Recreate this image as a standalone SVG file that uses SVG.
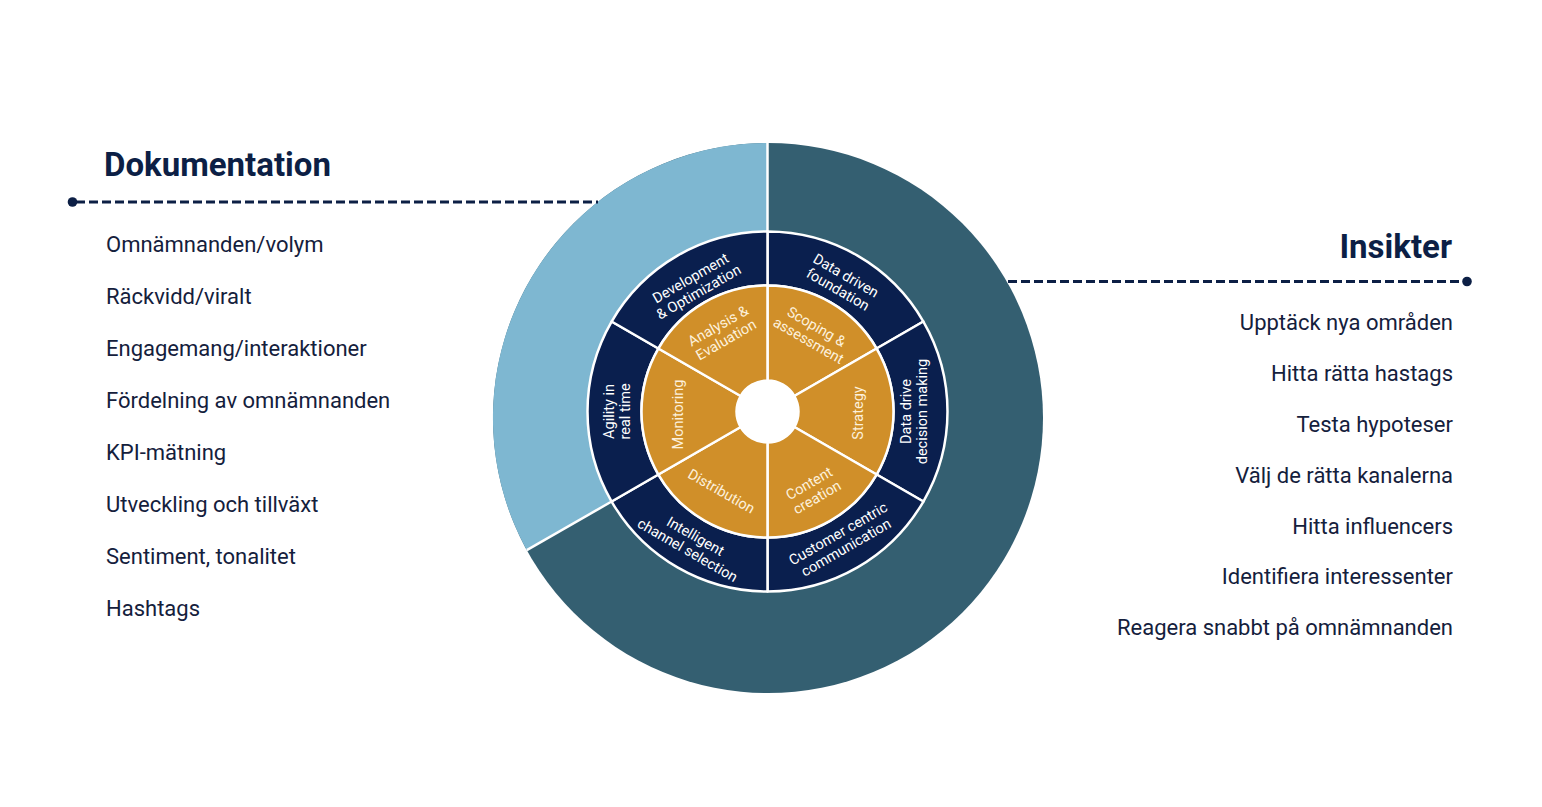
<svg xmlns="http://www.w3.org/2000/svg" width="1542" height="807" viewBox="0 0 1542 807">
<style>
.h{font-family:Roboto,"Liberation Sans",sans-serif;font-weight:700;font-size:33px;fill:#0c1f45}
.it{font-family:Roboto,"Liberation Sans",sans-serif;font-size:22px;fill:#14203c}
.r{text-anchor:end}
.nv{fill:#0a1f4e;stroke:#fff;stroke-width:2.5;stroke-linejoin:round}
.or{fill:#d08f29;stroke:#fff;stroke-width:2.5;stroke-linejoin:round}
.wt{font-family:Roboto,"Liberation Sans",sans-serif;font-size:14.5px;fill:#fff;text-anchor:middle}
.ot{font-family:Roboto,"Liberation Sans",sans-serif;font-size:14.5px;fill:#fdf1dc;text-anchor:middle}
.dash{fill:none;stroke:#0c1f45;stroke-width:3;stroke-dasharray:9 4}
.sep{stroke:#fff;stroke-width:2.5}
</style>
<rect width="1542" height="807" fill="#fff"/>

<g id="outer-ring">
<circle cx="768" cy="418" r="275" fill="#345f71"/>
<path d="M767.5 411.5 L767.5 143 A275 275 0 0 0 526.8 550.2 Z" fill="#7eb7d1"/>
<line class="sep" x1="767.5" y1="143" x2="767.5" y2="232"/>
<line class="sep" x1="526.8" y1="550.2" x2="611.6" y2="501.5"/>
</g>

<g id="connectors">
<line class="dash" x1="76" y1="202" x2="598" y2="202"/>
<circle cx="72.5" cy="202" r="4.8" fill="#0c1f45"/>
<line class="dash" x1="1008" y1="281.5" x2="1464" y2="281.5"/>
<circle cx="1467" cy="281.5" r="4.8" fill="#0c1f45"/>
</g>

<g id="node-dokumentation">
<text class="h" x="104" y="176">Dokumentation</text>
<text class="it" x="106" y="252">Omnämnanden/volym</text>
<text class="it" x="106" y="304">Räckvidd/viralt</text>
<text class="it" x="106" y="356">Engagemang/interaktioner</text>
<text class="it" x="106" y="408">Fördelning av omnämnanden</text>
<text class="it" x="106" y="460">KPI-mätning</text>
<text class="it" x="106" y="512">Utveckling och tillväxt</text>
<text class="it" x="106" y="564">Sentiment, tonalitet</text>
<text class="it" x="106" y="616">Hashtags</text>
</g>

<g id="node-insikter">
<text class="h r" x="1452" y="258">Insikter</text>
<text class="it r" x="1453" y="330">Upptäck nya områden</text>
<text class="it r" x="1453" y="381">Hitta rätta hastags</text>
<text class="it r" x="1453" y="432">Testa hypoteser</text>
<text class="it r" x="1453" y="483">Välj de rätta kanalerna</text>
<text class="it r" x="1453" y="534">Hitta influencers</text>
<text class="it r" x="1453" y="584">Identifiera interessenter</text>
<text class="it r" x="1453" y="635">Reagera snabbt på omnämnanden</text>
</g>

<g id="node-data-driven-foundation">
<path class="nv" d="M767.5 231.5 A180 180 0 0 1 923.38 321.5 L876.62 348.5 A126 126 0 0 0 767.5 285.5 Z"/>
<text class="wt" transform="translate(767.5 411.5) rotate(30) translate(0 -149)"><tspan x="0" y="-3">Data driven</tspan><tspan x="0" y="13">foundation</tspan></text>
</g>
<g id="node-data-drive-decision-making">
<path class="nv" d="M923.38 321.5 A180 180 0 0 1 923.38 501.5 L876.62 474.5 A126 126 0 0 0 876.62 348.5 Z"/>
<text class="wt" transform="translate(767.5 411.5) rotate(-90) translate(0 146)"><tspan x="0" y="-3">Data drive</tspan><tspan x="0" y="13">decision making</tspan></text>
</g>
<g id="node-customer-centric-communication">
<path class="nv" d="M923.38 501.5 A180 180 0 0 1 767.5 591.5 L767.5 537.5 A126 126 0 0 0 876.62 474.5 Z"/>
<text class="wt" transform="translate(767.5 411.5) rotate(-30) translate(0 149)"><tspan x="0" y="-3">Customer centric</tspan><tspan x="0" y="13">communication</tspan></text>
</g>
<g id="node-intelligent-channel-selection">
<path class="nv" d="M767.5 591.5 A180 180 0 0 1 611.62 501.5 L658.38 474.5 A126 126 0 0 0 767.5 537.5 Z"/>
<text class="wt" transform="translate(767.5 411.5) rotate(30) translate(0 152)"><tspan x="0" y="-3">Intelligent</tspan><tspan x="0" y="13">channel selection</tspan></text>
</g>
<g id="node-agility-in-real-time">
<path class="nv" d="M611.62 501.5 A180 180 0 0 1 611.62 321.5 L658.38 348.5 A126 126 0 0 0 658.38 474.5 Z"/>
<text class="wt" transform="translate(767.5 411.5) rotate(-90) translate(0 -151)"><tspan x="0" y="-3">Agility in</tspan><tspan x="0" y="13">real time</tspan></text>
</g>
<g id="node-development-optimization">
<path class="nv" d="M611.62 321.5 A180 180 0 0 1 767.5 231.5 L767.5 285.5 A126 126 0 0 0 658.38 348.5 Z"/>
<text class="wt" transform="translate(767.5 411.5) rotate(-30) translate(0 -146)"><tspan x="0" y="-3">Development</tspan><tspan x="0" y="13">&amp; Optimization</tspan></text>
</g>

<g id="node-scoping-assessment">
<path class="or" d="M767.5 285.5 A126 126 0 0 1 876.62 348.5 L794.35 396 A31 31 0 0 0 767.5 380.5 Z"/>
<text class="ot" transform="translate(767.5 411.5) rotate(30) translate(0 -90)"><tspan x="0" y="-3">Scoping &amp;</tspan><tspan x="0" y="13">assessment</tspan></text>
</g>
<g id="node-strategy">
<path class="or" d="M876.62 348.5 A126 126 0 0 1 876.62 474.5 L794.35 427 A31 31 0 0 0 794.35 396 Z"/>
<text class="ot" transform="translate(767.5 411.5) rotate(-90) translate(0 90)" x="-1.5" y="5">Strategy</text>
</g>
<g id="node-content-creation">
<path class="or" d="M876.62 474.5 A126 126 0 0 1 767.5 537.5 L767.5 442.5 A31 31 0 0 0 794.35 427 Z"/>
<text class="ot" transform="translate(767.5 411.5) rotate(-30) translate(0 91)"><tspan x="0" y="-3">Content</tspan><tspan x="0" y="13">creation</tspan></text>
</g>
<g id="node-distribution">
<path class="or" d="M767.5 537.5 A126 126 0 0 1 658.38 474.5 L740.65 427 A31 31 0 0 0 767.5 442.5 Z"/>
<text class="ot" transform="translate(767.5 411.5) rotate(30) translate(0 92)" x="0" y="5">Distribution</text>
</g>
<g id="node-monitoring">
<path class="or" d="M658.38 474.5 A126 126 0 0 1 658.38 348.5 L740.65 396 A31 31 0 0 0 740.65 427 Z"/>
<text class="ot" transform="translate(767.5 411.5) rotate(-90) translate(0 -90)" x="-3" y="5">Monitoring</text>
</g>
<g id="node-analysis-evaluation">
<path class="or" d="M658.38 348.5 A126 126 0 0 1 767.5 285.5 L767.5 380.5 A31 31 0 0 0 740.65 396 Z"/>
<text class="ot" transform="translate(767.5 411.5) rotate(-30) translate(0 -91)"><tspan x="0" y="-3">Analysis &amp;</tspan><tspan x="0" y="13">Evaluation</tspan></text>
</g>

<g id="node-center">
<circle cx="767.5" cy="411.5" r="31.5" fill="#fff"/>
</g>
</svg>
